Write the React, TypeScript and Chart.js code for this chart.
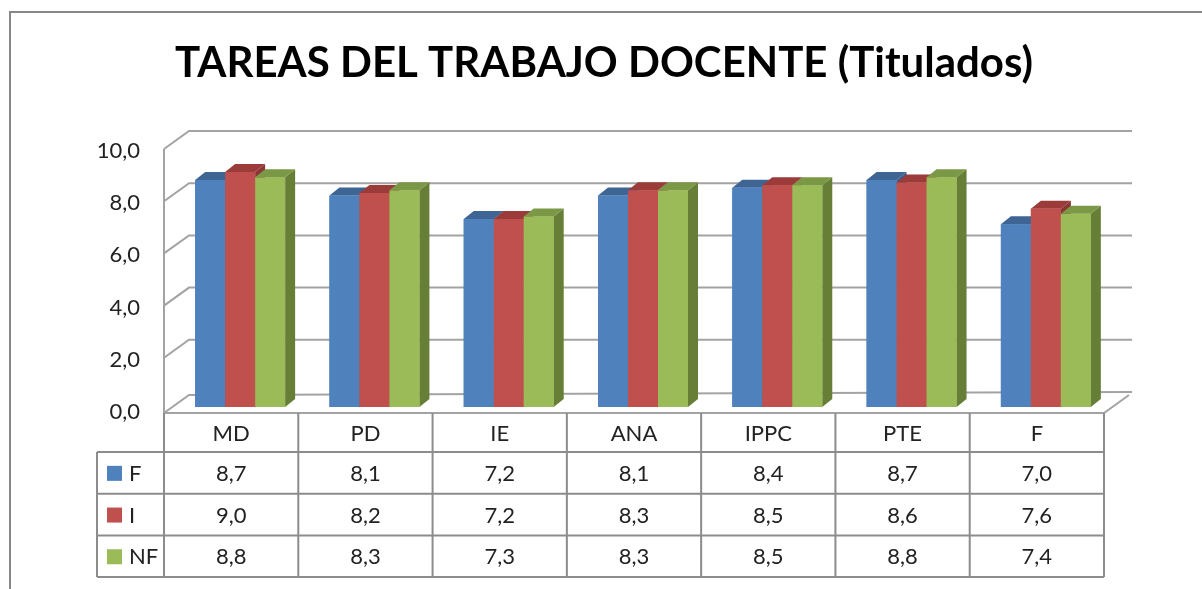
import React, { useEffect, useRef } from 'react';
import { Chart, registerables } from 'chart.js';

Chart.register(...registerables);

const titleText = 'TAREAS DEL TRABAJO DOCENTE (Titulados)';
const categories = ['MD', 'PD', 'IE', 'ANA', 'IPPC', 'PTE', 'F'];
const seriesNames = ['F', 'I', 'NF'];
const valuesF = [8.7, 8.1, 7.2, 8.1, 8.4, 8.7, 7.0];
const valuesI = [9.0, 8.2, 7.2, 8.3, 8.5, 8.6, 7.6];
const valuesNF = [8.8, 8.3, 7.3, 8.3, 8.5, 8.8, 7.4];
const yTickLabels = ['0,0', '2,0', '4,0', '6,0', '8,0', '10,0'];

const frontColors = ['#4f81bd', '#c0504d', '#9bbb59'];
const topColors = ['#3e6594', '#9b3c3a', '#7a9845'];
const sideColors = ['#385d8a', '#8b3634', '#677e36'];

const FONT = 'Lato, "Open Sans", sans-serif';
const GRID = '#a3a3a3';
const TABLE_LINE = '#8c8c8c';
const SHIFT = 9; // bars sit a little behind the front edge
const WALL_DX = 25;
const WALL_DY = -18;
const BAR_DX = 10;
const BAR_DY = -8;

const fmt = (v: number) => v.toFixed(1).replace('.', ',');

const threeDPlugin = {
  id: 'threeD',
  beforeDatasetsDraw(chart: any) {
    const { ctx, chartArea, scales } = chart;
    const y = scales.y;
    const xL = chartArea.left - SHIFT;
    const xR = chartArea.right - SHIFT;
    const floorY = y.getPixelForValue(0) + 6;
    ctx.save();
    ctx.strokeStyle = GRID;
    ctx.lineWidth = 2;
    y.ticks.forEach((t: any) => {
      const yf = y.getPixelForValue(t.value) + 3;
      const yb = yf + WALL_DY;
      ctx.beginPath();
      if (t.value === 0) {
        ctx.moveTo(xL, floorY);
        ctx.lineTo(xL + WALL_DX, floorY + WALL_DY);
      } else {
        ctx.moveTo(xL, yf);
        ctx.lineTo(xL + WALL_DX, yb);
      }
      ctx.lineTo(xR + WALL_DX + 3, yb);
      ctx.stroke();
    });
    // floor front edge and right edge
    ctx.beginPath();
    ctx.moveTo(xL, floorY);
    ctx.lineTo(xR, floorY);
    ctx.lineTo(xR + WALL_DX, floorY + WALL_DY);
    ctx.stroke();
    // front vertical edge of the side wall
    ctx.beginPath();
    ctx.moveTo(xL, y.getPixelForValue(10) + 3);
    ctx.lineTo(xL, floorY);
    ctx.stroke();
    ctx.restore();
  },
  afterDatasetsDraw(chart: any) {
    const { ctx } = chart;
    ctx.save();
    // repaint every bar as a box, series by series (left to right), so each
    // bar's front hides the side of the bar before it
    for (let i = 0; i < chart.data.datasets.length; i++) {
      const meta = chart.getDatasetMeta(i);
      meta.data.forEach((el: any) => {
        const p = el.getProps(['x', 'y', 'base', 'width'], true);
        const l = p.x - p.width / 2;
        const r = p.x + p.width / 2;
        // side face
        ctx.fillStyle = sideColors[i];
        ctx.beginPath();
        ctx.moveTo(r, p.y);
        ctx.lineTo(r + BAR_DX, p.y + BAR_DY);
        ctx.lineTo(r + BAR_DX, p.base + BAR_DY);
        ctx.lineTo(r, p.base);
        ctx.closePath();
        ctx.fill();
        // top face
        ctx.fillStyle = topColors[i];
        ctx.beginPath();
        ctx.moveTo(l, p.y);
        ctx.lineTo(r, p.y);
        ctx.lineTo(r + BAR_DX, p.y + BAR_DY);
        ctx.lineTo(l + BAR_DX, p.y + BAR_DY);
        ctx.closePath();
        ctx.fill();
        // front face
        ctx.fillStyle = frontColors[i];
        ctx.fillRect(l, p.y, p.width, p.base - p.y);
      });
    }
    ctx.restore();
  },
  afterDraw(chart: any) {
    const { ctx, chartArea, scales } = chart;
    const y = scales.y;
    const xL = chartArea.left - SHIFT;
    const xR = chartArea.right - SHIFT;
    const catW = (xR - xL) / categories.length;
    const floorY = y.getPixelForValue(0) + 6;
    const headerH = 39;
    const rowH = 41.7;
    const legendL = 97;
    const rows = [valuesF, valuesI, valuesNF];
    const bottom = floorY + headerH + rowH * rows.length;

    ctx.save();
    ctx.strokeStyle = TABLE_LINE;
    ctx.lineWidth = 2;
    ctx.beginPath();
    for (let c = 0; c <= categories.length; c++) {
      const x = xL + c * catW;
      ctx.moveTo(x, floorY);
      ctx.lineTo(x, bottom);
    }
    ctx.moveTo(legendL, floorY + headerH);
    ctx.lineTo(legendL, bottom);
    for (let r = 0; r <= rows.length; r++) {
      const yy = floorY + headerH + r * rowH;
      ctx.moveTo(legendL, yy);
      ctx.lineTo(xR, yy);
    }
    ctx.stroke();

    ctx.fillStyle = '#222';
    ctx.font = `22px ${FONT}`;
    ctx.textBaseline = 'middle';
    ctx.textAlign = 'center';
    categories.forEach((cat, c) => {
      ctx.fillText(cat, xL + (c + 0.5) * catW, floorY + headerH / 2 + 1);
    });
    rows.forEach((vals, r) => {
      const cy = floorY + headerH + (r + 0.5) * rowH + 1;
      vals.forEach((v, c) => {
        ctx.fillStyle = '#222';
        ctx.textAlign = 'center';
        ctx.fillText(fmt(v), xL + (c + 0.5) * catW, cy);
      });
      ctx.fillStyle = frontColors[r];
      ctx.fillRect(107, cy - 8, 15, 15);
      ctx.fillStyle = '#222';
      ctx.textAlign = 'left';
      ctx.fillText(seriesNames[r], 129, cy);
    });

    // outer chart border
    ctx.strokeStyle = '#878787';
    ctx.lineWidth = 2;
    ctx.strokeRect(10, 12, 1220, 620);
    ctx.restore();
  },
};

export default function App() {
  const ref = useRef<HTMLCanvasElement | null>(null);

  useEffect(() => {
    document.body.style.margin = '0';
    const canvas = ref.current;
    if (!canvas) return;
    const seriesValues = [valuesF, valuesI, valuesNF];
    const chart = new Chart(canvas, {
      type: 'bar',
      data: {
        labels: categories,
        datasets: seriesValues.map((vals, i) => ({
          label: seriesNames[i],
          data: vals,
          backgroundColor: frontColors[i],
          borderWidth: 0,
          categoryPercentage: 0.67,
          barPercentage: 1.0,
        })),
      },
      options: {
        responsive: false,
        animation: false,
        events: [],
        layout: { padding: { left: 95, right: 89, top: 0, bottom: 182 } },
        plugins: {
          legend: { display: false },
          tooltip: { enabled: false },
          title: {
            display: true,
            text: titleText,
            color: '#000',
            font: { family: FONT, size: 42, weight: 'bold', lineHeight: 1.2 },
            padding: { top: 38, bottom: 57.6 },
          },
        },
        scales: {
          x: { display: false },
          y: {
            min: 0,
            max: 10,
            afterFit: (s: any) => { s.width = 78; },
            grid: { display: false, drawTicks: false },
            border: { display: false },
            ticks: {
              stepSize: 2,
              padding: 33,
              labelOffset: 5,
              color: '#222',
              font: { family: FONT, size: 22 },
              callback: (v: any) => yTickLabels[Math.round(Number(v) / 2)],
            },
          },
        },
      },
      plugins: [threeDPlugin],
    });
    return () => chart.destroy();
  }, []);

  return (
    <div style={{ width: 1202, height: 589 }}>
      <canvas ref={ref} width={1202} height={589} style={{ display: 'block' }} />
    </div>
  );
}
